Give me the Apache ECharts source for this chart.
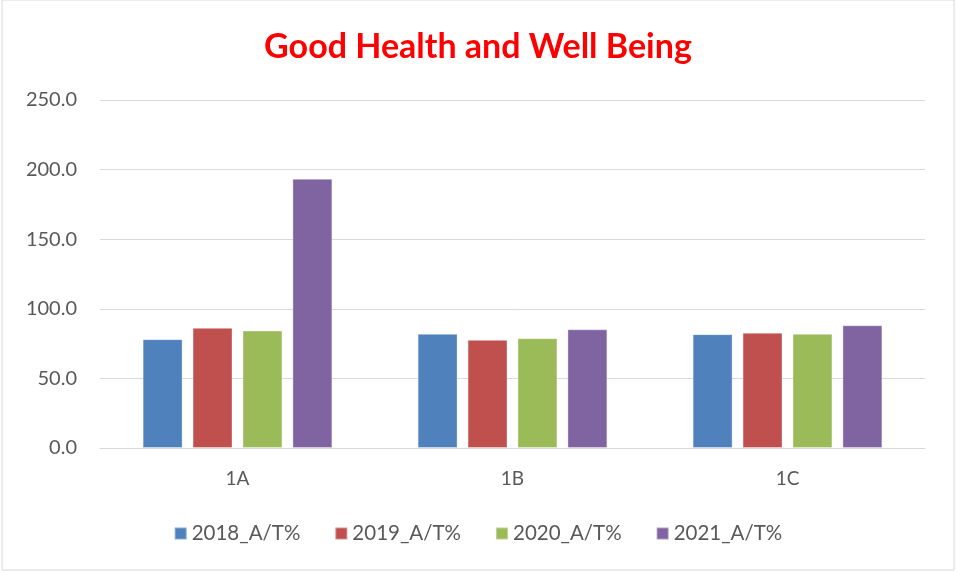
<!DOCTYPE html>
<html>
<head>
<meta charset="utf-8">
<script src="https://cdn.jsdelivr.net/npm/echarts@6/dist/echarts.min.js"></script>
<style>
  html, body { margin: 0; padding: 0; background: #fff; }
  #chart { width: 956px; height: 571px; }
</style>
</head>
<body>
<div id="chart"></div>
<script>
// categories and series values
const categories = ['1A', '1B', '1C'];
const seriesNames = ['2018_A/T%', '2019_A/T%', '2020_A/T%', '2021_A/T%'];
const values2018 = [78.2, 82.0, 81.8];
const values2019 = [86.3, 77.7, 82.8];
const values2020 = [84.4, 78.9, 82.0];
const values2021 = [193.4, 85.3, 88.2];
const colors = ['#4F81BD', '#C0504D', '#9BBB59', '#8064A2'];

const chart = echarts.init(document.getElementById('chart'));
const font = 'Lato, "Open Sans", sans-serif';

const allValues = [values2018, values2019, values2020, values2021];

chart.setOption({
  animation: false,
  title: {
    text: 'Good Health and Well Being',
    left: 'center',
    top: 25,
    textStyle: { color: '#FF0000', fontSize: 34, fontWeight: 'bold', fontFamily: font }
  },
  graphic: [{
    type: 'rect',
    shape: { x: 2, y: 0, width: 952, height: 570 },
    style: { fill: 'none', stroke: '#D9D9D9', lineWidth: 1 },
    silent: true
  }],
  legend: {
    bottom: 22,
    left: 'center',
    itemWidth: 12,
    itemHeight: 12,
    itemGap: 34,
    icon: 'rect',
    textStyle: { color: '#595959', fontSize: 20.5, fontFamily: font }
  },
  grid: { left: 100, right: 31, top: 100, bottom: 123 },
  xAxis: {
    type: 'category',
    data: categories,
    axisLine: { lineStyle: { color: '#D9D9D9' } },
    axisTick: { show: false },
    axisLabel: { color: '#595959', fontSize: 19, margin: 21, fontFamily: font }
  },
  yAxis: {
    type: 'value',
    min: 0,
    max: 250,
    interval: 50,
    axisLine: { show: false },
    axisTick: { show: false },
    splitLine: { lineStyle: { color: '#D9D9D9', width: 1 } },
    axisLabel: {
      color: '#595959', fontSize: 20, margin: 23, fontFamily: font,
      formatter: v => v.toFixed(1)
    }
  },
  series: seriesNames.map((name, i) => ({
    name: name,
    type: 'bar',
    data: allValues[i],
    barGap: '25%',
    barCategoryGap: '31%',
    itemStyle: { color: colors[i], borderColor: 'rgba(255,255,255,0.35)', borderWidth: 1 }
  }))
});
</script>
</body>
</html>
